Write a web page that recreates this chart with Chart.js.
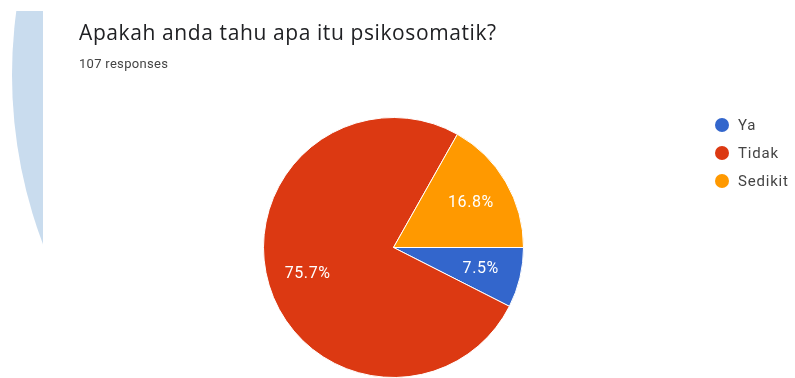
<!DOCTYPE html>
<html>
<head>
<meta charset="utf-8">
<script src="https://cdn.jsdelivr.net/npm/chart.js@4/dist/chart.umd.min.js"></script>
<style>
  html, body { margin: 0; padding: 0; background: #fff; }
  #wrap { position: relative; width: 795px; height: 378px; }
  canvas { display: block; }
</style>
</head>
<body>
<div id="wrap"><canvas id="c" width="795" height="378"></canvas></div>
<script>
const titleText = "Apakah anda tahu apa itu psikosomatik?";
const subtitleText = "107 responses";
const categories = ["Ya", "Tidak", "Sedikit"];
const counts = [8, 81, 18];
const colors = ["#3366cc", "#dc3912", "#ff9900"];

const total = counts.reduce((a, b) => a + b, 0);

const decorPlugin = {
  id: 'decor',
  beforeDraw(chart) {
    const ctx = chart.ctx;
    ctx.save();
    ctx.beginPath();
    ctx.rect(0, 11, 43, 240);
    ctx.clip();
    ctx.beginPath();
    ctx.arc(490, 75, 478, 0, Math.PI * 2);
    ctx.fillStyle = "#c9dcee";
    ctx.fill();
    ctx.restore();
  },
  afterDraw(chart) {
    const ctx = chart.ctx;
    ctx.save();
    // title
    ctx.fillStyle = "#202124";
    ctx.font = "21px 'Open Sans', Roboto, sans-serif";
    ctx.letterSpacing = "0.6px";
    ctx.textBaseline = "alphabetic";
    ctx.textAlign = "left";
    ctx.fillText(titleText, 79, 40);
    ctx.fillStyle = "#444";
    ctx.font = "13px Roboto, sans-serif";
    ctx.letterSpacing = "0.3px";
    ctx.fillText(subtitleText, 79, 68);

    // slice labels
    const meta = chart.getDatasetMeta(0);
    ctx.font = "16px Roboto, sans-serif";
    ctx.letterSpacing = "0.6px";
    ctx.fillStyle = "#fff";
    ctx.textAlign = "center";
    ctx.textBaseline = "middle";
    meta.data.forEach((arc, i) => {
      const p = arc.getProps(['x', 'y', 'startAngle', 'endAngle', 'outerRadius'], true);
      const mid = (p.startAngle + p.endAngle) / 2;
      const r = p.outerRadius * 0.69;
      const pct = (counts[i] / total * 100).toFixed(1) + "%";
      ctx.fillText(pct, p.x + Math.cos(mid) * r, p.y + Math.sin(mid) * r + 1);
    });

    // legend
    ctx.textAlign = "left";
    ctx.font = "15px Roboto, sans-serif";
    ctx.letterSpacing = "0.8px";
    categories.forEach((c, i) => {
      const y = 125 + i * 28;
      ctx.beginPath();
      ctx.arc(722, y, 7, 0, Math.PI * 2);
      ctx.fillStyle = colors[i];
      ctx.fill();
      ctx.fillStyle = "#444";
      ctx.fillText(c, 738, y + 1);
    });
    ctx.restore();
  }
};

new Chart(document.getElementById('c'), {
  type: 'pie',
  data: {
    labels: categories,
    datasets: [{
      data: counts,
      backgroundColor: colors,
      borderColor: "#ffffff",
      borderWidth: 1
    }]
  },
  options: {
    responsive: false,
    animation: false,
    rotation: 90,
    layout: { padding: { left: 263, right: 271, top: 117, bottom: 0 } },
    plugins: {
      legend: { display: false },
      tooltip: { enabled: false },
      title: { display: false }
    }
  },
  plugins: [decorPlugin]
});
</script>
</body>
</html>
